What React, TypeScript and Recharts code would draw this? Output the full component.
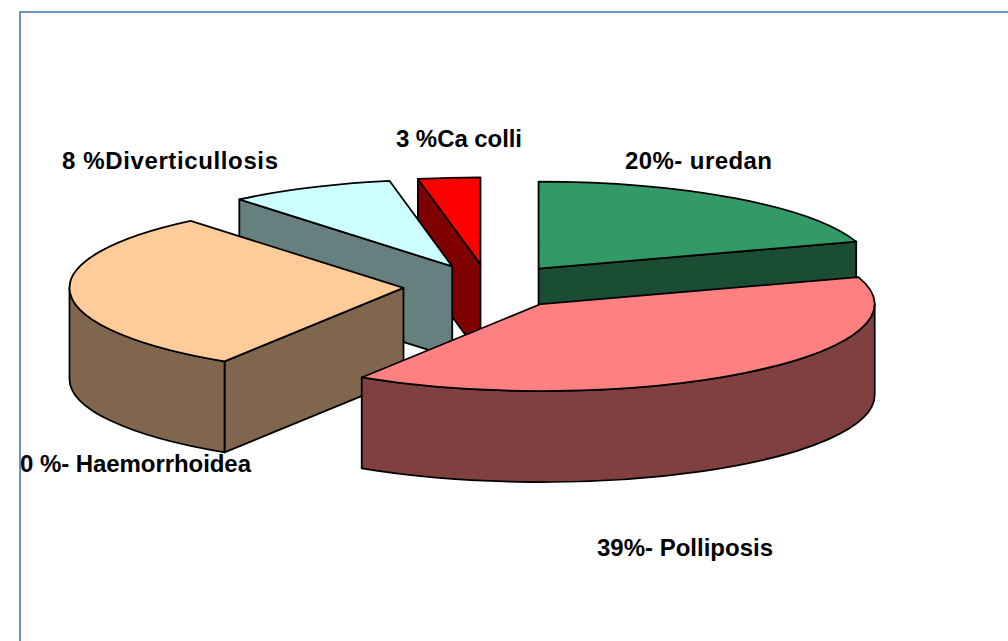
import { Pie, PieChart } from 'recharts'

// drawing order back to front, the pie runs counter-clockwise from uredan's far edge
const sliceNames = ['uredan', 'Ca colli', 'Diverticullosis', 'Haemorrhoidea', 'Polliposis']
const sliceValues = [20, 3, 8, 30, 39]
const sliceLabels = ['20%- uredan', '3 %Ca colli', '8 %Diverticullosis', '0 %- Haemorrhoidea', '39%- Polliposis']
const topColors = ['#339966', '#FF0000', '#CCFFFF', '#FFCC99', '#FF8080']
const sideColors = ['#1A4D33', '#800000', '#668080', '#80664D', '#804040']

const data = sliceNames.map((name, i) => ({ name, value: sliceValues[i], label: sliceLabels[i], fill: topColors[i], side: sideColors[i] }))

const WIDTH = 1008
const HEIGHT = 641
const RX = 334
const SQUASH = 87 / 334
const DEPTH = 91
const EXPLODE = 0.255

// where each label sits: left edge, baseline, drawn width
const labelPos = [
  [625, 169, 147],
  [396, 147, 126],
  [62, 169, 216],
  [20, 472, 231],
  [597, 556, 176],
]

const rad = (d: number) => (d * Math.PI) / 180

function Slice3D(props: any) {
  const { cx, cy, outerRadius, startAngle, endAngle, fill, payload } = props
  // recharts angles -> screen angle measured clockwise from 12 o'clock
  const from = 90 - Math.max(startAngle, endAngle)
  const to = 90 - Math.min(startAngle, endAngle)
  const s = from < 0 ? from + 360 : from
  const e = s + (to - from)
  const mid = (s + e) / 2
  const ax = cx + EXPLODE * outerRadius * Math.sin(rad(mid))
  const ay = cy - EXPLODE * outerRadius * SQUASH * Math.cos(rad(mid))
  const px = (a: number) => ax + outerRadius * Math.sin(rad(a))
  const py = (a: number) => ay - outerRadius * SQUASH * Math.cos(rad(a))
  const ry = outerRadius * SQUASH
  const faces = []
  const stroke = { stroke: '#000', strokeWidth: 1.8, strokeLinejoin: 'round' as const }

  if (Math.sin(rad(s)) < 0) {
    faces.push(`M${ax},${ay}L${px(s)},${py(s)}v${DEPTH}L${ax},${ay + DEPTH}Z`)
  }
  if (Math.sin(rad(e)) > 0) {
    faces.push(`M${ax},${ay}L${px(e)},${py(e)}v${DEPTH}L${ax},${ay + DEPTH}Z`)
  }
  const r0 = Math.max(s, 90)
  const r1 = Math.min(e, 270)
  if (r1 > r0) {
    faces.push(
      `M${px(r0)},${py(r0)}A${outerRadius},${ry} 0 0 1 ${px(r1)},${py(r1)}v${DEPTH}A${outerRadius},${ry} 0 0 0 ${px(r0)},${py(r0) + DEPTH}Z`,
    )
  }
  const large = e - s > 180 ? 1 : 0
  return (
    <g>
      {faces.map((d, i) => (
        <path key={i} d={d} fill={payload.side} {...stroke} />
      ))}
      <path
        d={`M${ax},${ay}L${px(s)},${py(s)}A${outerRadius},${ry} 0 ${large} 1 ${px(e)},${py(e)}Z`}
        fill={fill}
        {...stroke}
      />
    </g>
  )
}

function SliceLabel(props: any) {
  const [x, y, w] = labelPos[props.index]
  return (
    <text x={x} y={y} textLength={w} lengthAdjust="spacing" fill="#000" fontFamily="Liberation Sans" fontSize={24} fontWeight="bold" textAnchor="start">
      {props.payload.label}
    </text>
  )
}

export default function App() {
  return (
    <div style={{ position: 'absolute', left: 0, top: 0, width: WIDTH, height: HEIGHT, overflow: 'hidden', background: '#fff' }}>
      <div style={{ position: 'absolute', left: 19, top: 11, width: 1100, height: 800, border: '2px solid #6C94CC' }} />
      <div style={{ position: 'absolute', left: 0, top: 0 }}>
        <PieChart width={WIDTH} height={HEIGHT} margin={{ top: 0, right: 0, bottom: 0, left: 0 }}>
          <Pie
            data={data}
            dataKey="value"
            nameKey="name"
            cx={488.5}
            cy={286.5}
            outerRadius={RX}
            startAngle={18}
            endAngle={378}
            paddingAngle={0}
            shape={Slice3D}
            label={SliceLabel}
            labelLine={false}
            isAnimationActive={false}
          />
        </PieChart>
      </div>
    </div>
  )
}
